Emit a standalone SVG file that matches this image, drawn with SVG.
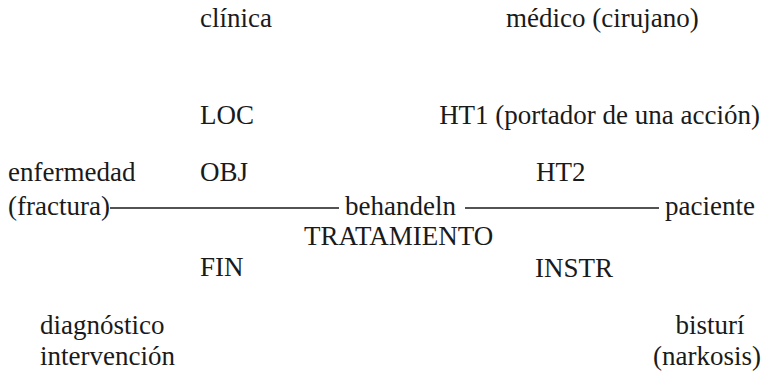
<svg xmlns="http://www.w3.org/2000/svg" width="766" height="382" viewBox="0 0 766 382">
<style>
.t { font-family: 'Liberation Serif', 'Times New Roman', serif; font-size: 27px; fill: #1a1a1a; }
.e { text-anchor: end; }
.m { text-anchor: middle; }
.conn { stroke: #1a1a1a; stroke-width: 1.6; fill: none; }
</style>
<rect width="766" height="382" fill="#ffffff"/>
<g id="connectors">
  <line class="conn" x1="110" y1="208" x2="339" y2="208"/>
  <line class="conn" x1="465" y1="208" x2="659" y2="208"/>
</g>
<g class="t">
<g id="clinica"><text x="200" y="27">clínica</text></g>
<g id="medico"><text x="506" y="27">médico (cirujano)</text></g>
<g id="loc"><text x="200" y="124">LOC</text></g>
<g id="ht1"><text class="e" x="760" y="124">HT1 (portador de una acción)</text></g>
<g id="enfermedad"><text x="8" y="181">enfermedad</text><text x="8" y="215">(fractura)</text></g>
<g id="obj"><text x="200" y="181">OBJ</text></g>
<g id="ht2"><text x="536" y="181">HT2</text></g>
<g id="behandeln"><text x="345" y="215">behandeln</text><text x="304" y="245">TRATAMIENTO</text></g>
<g id="paciente"><text x="665" y="215">paciente</text></g>
<g id="fin"><text x="200" y="276">FIN</text></g>
<g id="instr"><text x="535" y="277">INSTR</text></g>
<g id="diagnostico"><text x="40" y="334">diagnóstico</text><text x="40" y="365">intervención</text></g>
<g id="bisturi"><text class="m" x="710" y="334">bisturí</text><text class="e" x="761" y="365">(narkosis)</text></g>
</g>
</svg>
